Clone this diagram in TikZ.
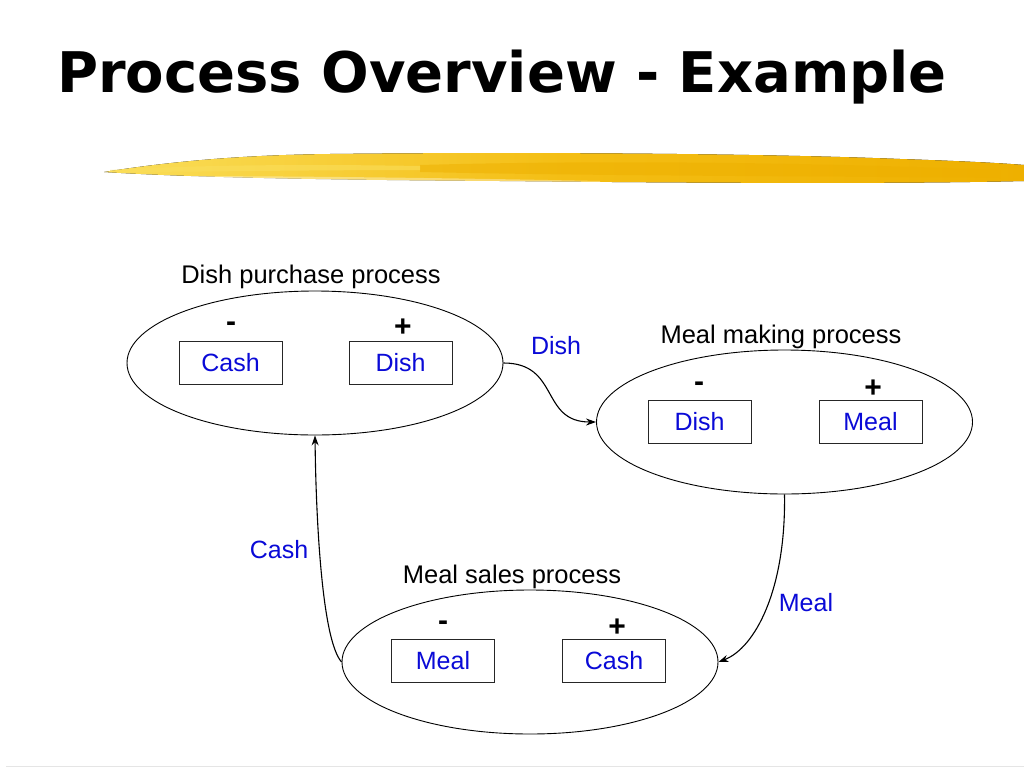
\documentclass[tikz,border=0pt]{standalone}
\usepackage{fontspec}
\setmainfont{Liberation Sans}
\newfontfamily\titlefont{DejaVu Sans}
\usetikzlibrary{shapes.geometric,arrows.meta}
\definecolor{lblue}{RGB}{10,10,215}
\definecolor{brushA}{RGB}{250,222,90}
\definecolor{brushB}{RGB}{244,190,20}
\definecolor{brushC}{RGB}{238,176,0}
\begin{document}
\begin{tikzpicture}[x=1pt,y=-1pt,
  proc/.style={draw,ellipse,line width=0.9pt,minimum width=376pt,minimum height=144pt,inner sep=0pt},
  acct/.style={draw=black!85,line width=0.7pt,minimum width=103pt,minimum height=43pt,inner sep=0pt,text=lblue,font=\fontsize{25}{27}\selectfont},
  sign/.style={font=\bfseries\fontsize{30}{32}\selectfont,inner sep=0pt},
  ptitle/.style={font=\fontsize{25.5}{27}\selectfont,inner sep=0pt},
  flow/.style={line width=1.1pt,-{Stealth[length=10pt,width=7pt]}},
  flabel/.style={text=lblue,font=\fontsize{25}{27}\selectfont,inner sep=0pt}]
\useasboundingbox (0,0) rectangle (1024,768);
\fill[white] (0,0) rectangle (1024,768);
% title
\node[anchor=base west,inner sep=0pt,font=\titlefont\bfseries\fontsize{56}{60}\selectfont] (title) at (57,92) {Process Overview - Example};
% brush stroke
\fill[left color=brushA,right color=brushC,middle color=brushB]
  (104,172) .. controls (180,160) and (250,155) .. (330,154)
  .. controls (500,152) and (750,153) .. (900,159)
  .. controls (960,161) and (1000,163) .. (1024,165)
  -- (1024,181) .. controls (900,184) and (700,183) .. (500,181)
  .. controls (350,180) and (200,178) .. (104,172) -- cycle;
\fill[brushC,opacity=0.5] (420,165) .. controls (600,160) and (800,162) .. (1000,170)
  -- (1000,178) .. controls (800,176) and (600,176) .. (420,172) -- cycle;
\fill[brushA,opacity=0.6] (110,170) .. controls (200,165) and (300,164) .. (420,166)
  -- (420,170) .. controls (300,170) and (200,172) .. (110,172) -- cycle;
\fill[white,opacity=0.35] (150,176) .. controls (300,176) and (450,178) .. (600,181)
  -- (600,183) .. controls (450,182) and (300,180) .. (150,177) -- cycle;
% processes
\node[proc] (e1) at (315,363) {};
\node[proc] (e2) at (784.5,422) {};
\node[proc] (e3) at (530,662) {};
\node[ptitle] (t1) at (311,277) {Dish purchase process};
\node[ptitle] (t2) at (781,337) {Meal making process};
\node[ptitle] (t3) at (512,577) {Meal sales process};
% accounts
\node[acct] (b1) at (230.5,362.5) {Cash};
\node[acct] (b2) at (400.5,362.5) {Dish};
\node[acct] (b3) at (699.5,422) {Dish};
\node[acct] (b4) at (870.5,422) {Meal};
\node[acct] (b5) at (443,661) {Meal};
\node[acct] (b6) at (614,661) {Cash};
\node[sign] (s1) at (231,327) {-};
\node[sign] (s2) at (403,328) {+};
\node[sign] (s3) at (699,387) {-};
\node[sign] (s4) at (873,389) {+};
\node[sign] (s5) at (443,626) {-};
\node[sign] (s6) at (617,628) {+};
% flows
\draw[flow] (e1.east) .. controls (560,363) and (540,422) .. (e2.west);
\draw[flow] (e2.south) .. controls (786,590) and (755,648) .. (e3.east);
\draw[flow] (e3.west) .. controls (322,640) and (316,520) .. (e1.south);
\node[flabel] (l1) at (556,346) {Dish};
\node[flabel] (l2) at (806,603) {Meal};
\node[flabel] (l3) at (279,550) {Cash};
% bottom rule
\coordinate (r1) at (6,766.5);
\coordinate (r2) at (1024,766.5);
\draw[black!10,line width=1pt] (r1) -- (r2);
\end{tikzpicture}
\end{document}
